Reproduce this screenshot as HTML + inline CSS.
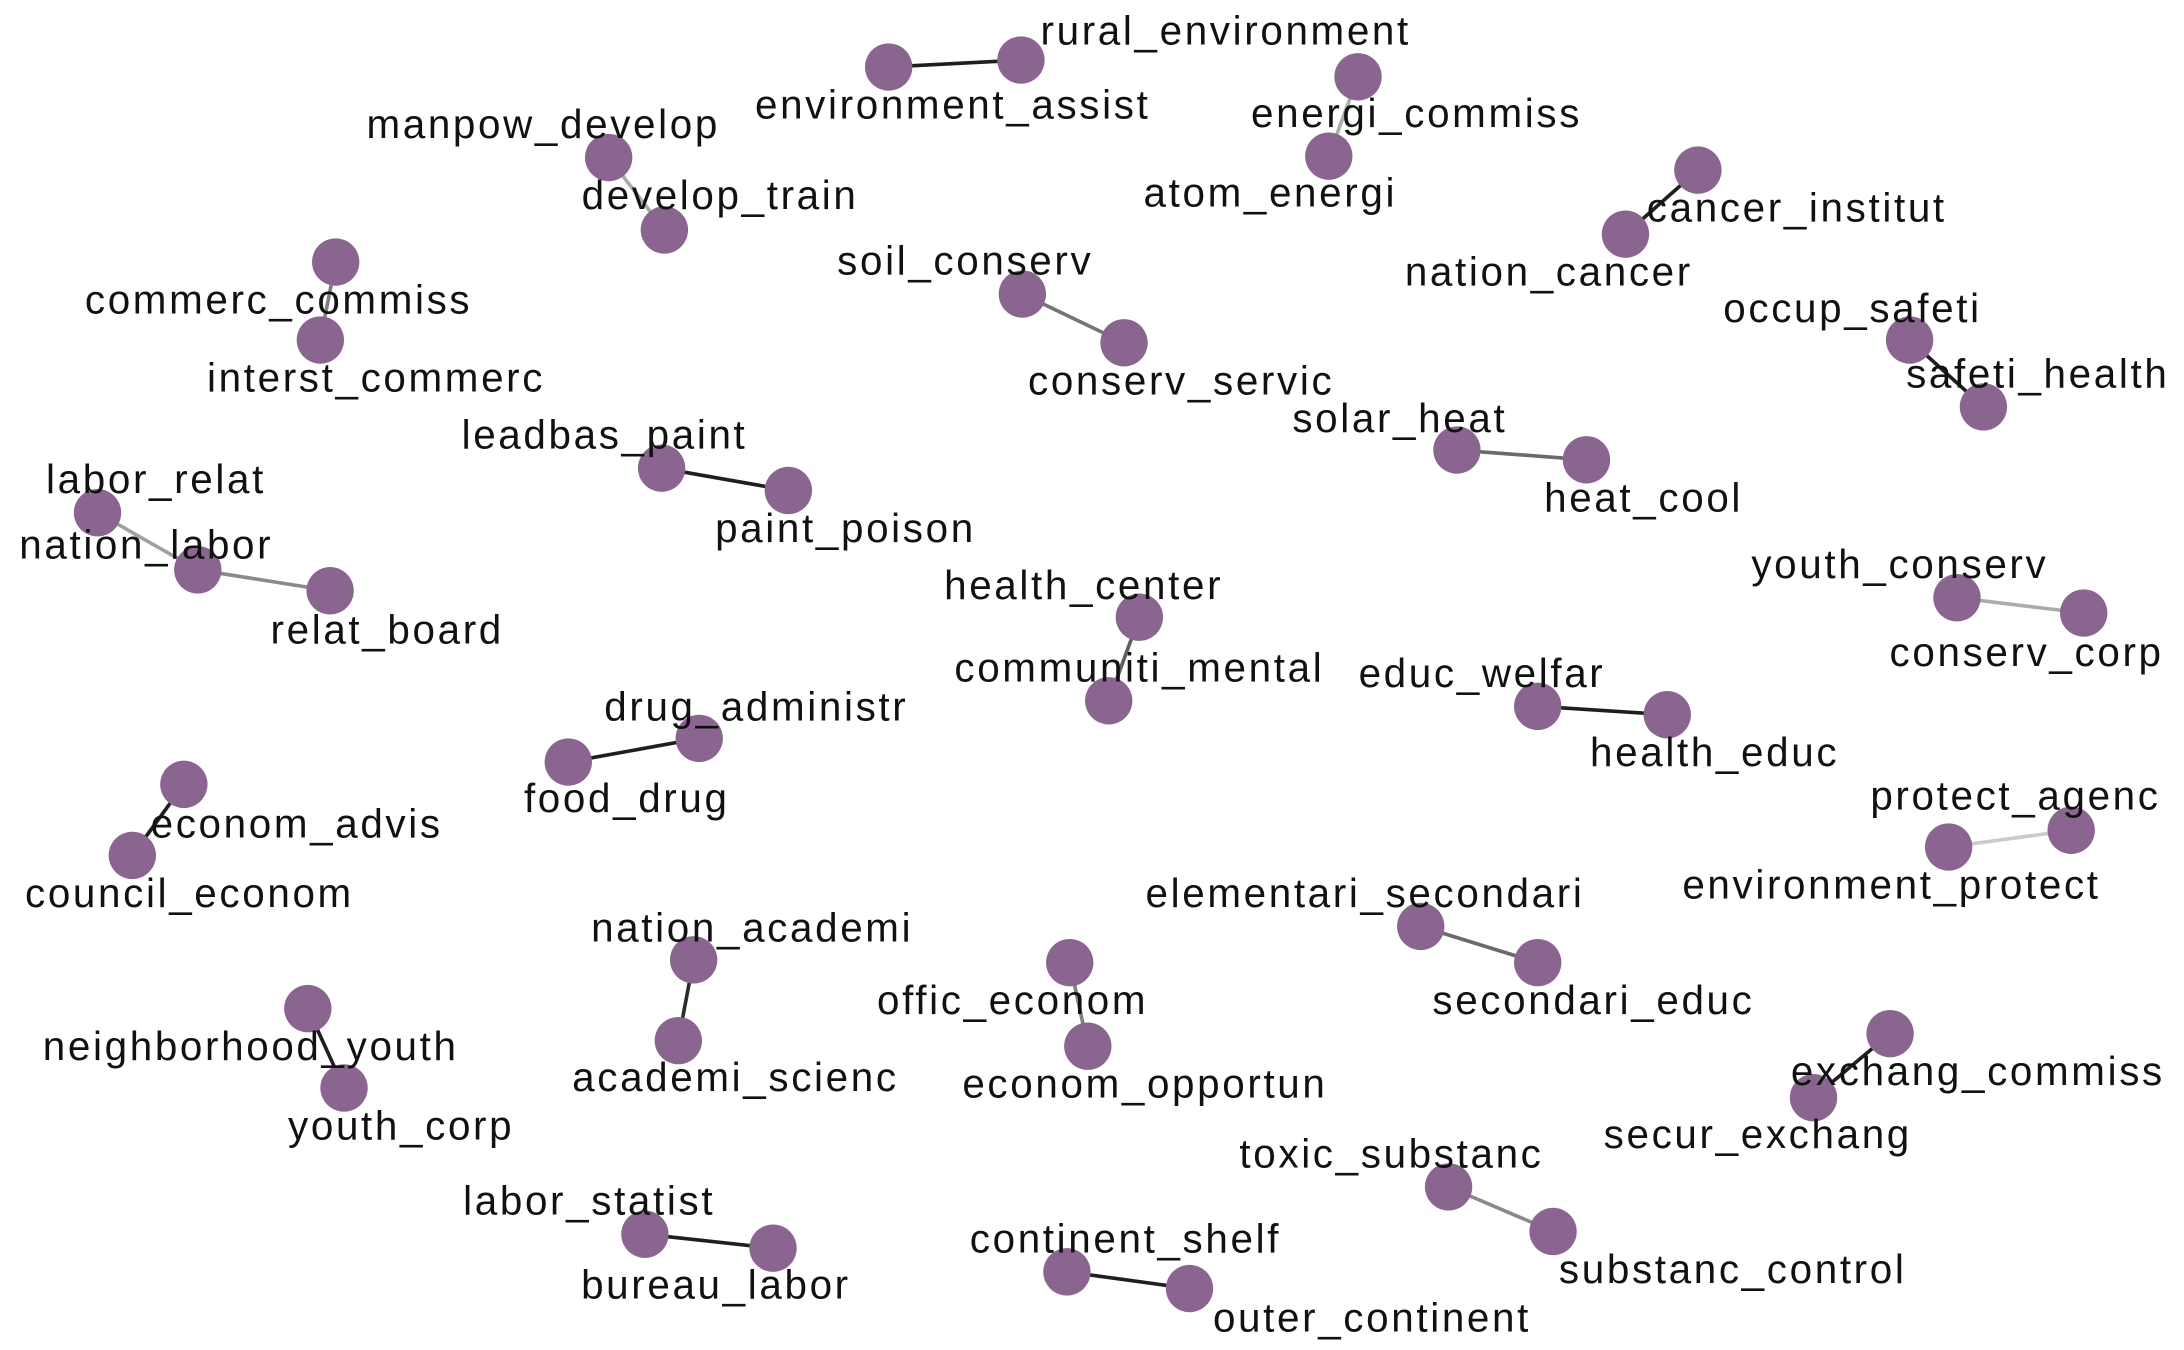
<!DOCTYPE html>
<html><head><meta charset="utf-8"><style>
html,body{margin:0;padding:0;background:#fff;}
svg{display:block;}
text{font-family:"Liberation Sans",sans-serif;font-size:29px;fill:#111;text-anchor:middle;letter-spacing:1.9px;}
</style></head><body>
<svg id="chart" width="2184" height="1350" viewBox="0 0 1568 969" xmlns="http://www.w3.org/2000/svg">
<g id="edges"></g>
<g id="nodes"></g>
<g id="labels"></g>
</svg>
<script>
const nodeNames=["environment_assist","rural_environment","energi_commiss","atom_energi","manpow_develop","develop_train","cancer_institut","nation_cancer","commerc_commiss","interst_commerc","soil_conserv","conserv_servic","occup_safeti","safeti_health","solar_heat","heat_cool","leadbas_paint","paint_poison","labor_relat","nation_labor","relat_board","health_center","communiti_mental","youth_conserv","conserv_corp","educ_welfar","health_educ","drug_administr","food_drug","econom_advis","council_econom","protect_agenc","environment_protect","elementari_secondari","secondari_educ","nation_academi","academi_scienc","offic_econom","econom_opportun","neighborhood_youth","youth_corp","exchang_commiss","secur_exchang","toxic_substanc","substanc_control","labor_statist","bureau_labor","continent_shelf","outer_continent"];
const nodeX=[638,733,975,954,437,477,1219,1167,241,230,734,807,1371,1424,1046,1139,475,566,70,142,237,818,796,1405,1496,1104,1197,502,408,132,95,1487,1399,1020,1104,498,487,768,781,221,247,1357,1302,1040,1115,463,555,766,854];
const nodeY=[48,43,55,112,113,165,122,168,188,244,211,246,244,292,323,330,336,352,368,409,424,443,503,429,440,507,513,530,547,563,614,596,608,665,691,689,747,691,751,724,781,742,788,852,884,886,896,913,925];
const labelX=[684,880,1017,912,390,517,1290,1112,200,270,693,848,1330,1463,1005,1180,434,607,112,105,278,778,818,1364,1455,1064,1231,543,450,213,136,1447,1358,980,1144,540,528,727,822,180,288,1420,1262,999,1244,423,514,808,985];
const labelY=[75,22,81,138,89,140,149,195,215,271,187,273,221,268,300,357,312,379,344,391,452,420,479,405,468,483,540,507,573,591,641,571,635,641,718,666,773,718,778,751,808,769,814,828,911,862,922,889,946];
const edgeFrom=[0,2,4,6,8,10,12,14,16,18,19,21,23,25,27,29,31,33,35,37,39,41,43,45,47];
const edgeTo=[1,3,5,7,9,11,13,15,17,19,20,22,24,26,28,30,32,34,36,38,40,42,44,46,48];
const edgeWeight=[0.95,0.3,0.3,0.95,0.5,0.55,0.95,0.6,0.95,0.35,0.45,0.65,0.3,0.95,0.95,0.95,0.15,0.6,0.9,0.5,0.95,0.95,0.45,0.95,0.95];
const NS="http://www.w3.org/2000/svg";
const gE=document.getElementById('edges'),gN=document.getElementById('nodes'),gL=document.getElementById('labels');
edgeFrom.forEach((a,i)=>{const b=edgeTo[i];const l=document.createElementNS(NS,'line');
l.setAttribute('x1',nodeX[a]);l.setAttribute('y1',nodeY[a]);l.setAttribute('x2',nodeX[b]);l.setAttribute('y2',nodeY[b]);
const g=Math.round(235-215*edgeWeight[i]);l.setAttribute('stroke',`rgb(${g},${g},${g})`);l.setAttribute('stroke-width',2.6);


gE.appendChild(l);});
nodeNames.forEach((n,i)=>{const c=document.createElementNS(NS,'circle');
c.setAttribute('cx',nodeX[i]);c.setAttribute('cy',nodeY[i]);c.setAttribute('r',17);c.setAttribute('fill','#8a6590');


gN.appendChild(c);
const t=document.createElementNS(NS,'text');t.setAttribute('x',labelX[i]);t.setAttribute('y',labelY[i]+10);t.textContent=n;


gL.appendChild(t);});
</script>
</body></html>
